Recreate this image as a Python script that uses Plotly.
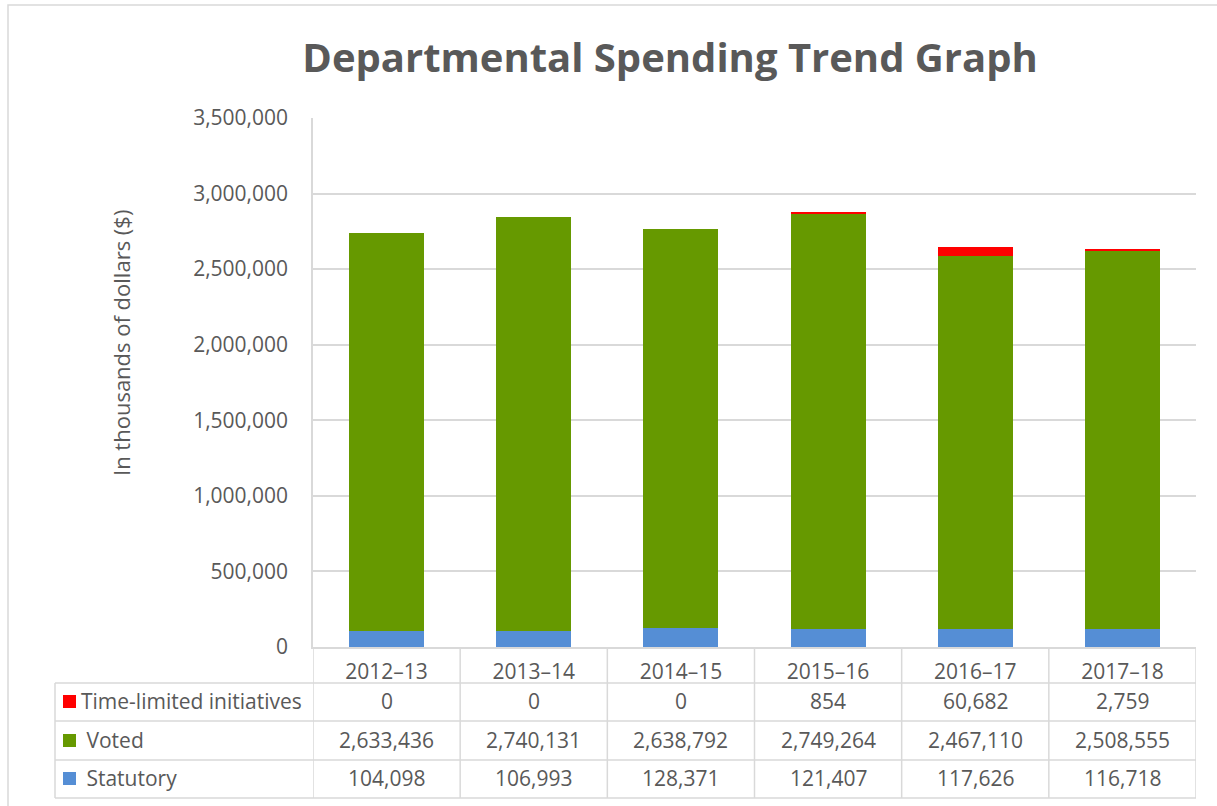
import plotly.graph_objects as go

categories = ["2012–13", "2013–14", "2014–15", "2015–16", "2016–17", "2017–18"]
statutory = [104098, 106993, 128371, 121407, 117626, 116718]
voted = [2633436, 2740131, 2638792, 2749264, 2467110, 2508555]
time_limited = [0, 0, 0, 854, 60682, 2759]
series_names = ["Time-limited initiatives", "Voted", "Statutory"]
y_ticks = [0, 500000, 1000000, 1500000, 2000000, 2500000, 3000000, 3500000]

C_RED = "#FF0000"
C_GREEN = "#669900"
C_BLUE = "#558ED5"
TXT = "#595959"
GRID = "#D9D9D9"
FONT = "Open Sans"
FS = 21

W, H = 1217, 806
L, R, T, B = 313, 1196, 118, 647


def px(x):
    return (x - L) / (R - L)


def py(y):
    return (B - y) / (B - T)


fig = go.Figure()
for name, vals, col in [("Statutory", statutory, C_BLUE),
                        ("Voted", voted, C_GREEN),
                        ("Time-limited initiatives", time_limited, C_RED)]:
    fig.add_trace(go.Bar(x=categories, y=vals, name=name, marker_color=col,
                         marker_line_width=0, width=0.51))

shapes = []
# outer border
shapes.append(dict(type="rect", xref="paper", yref="paper",
                   x0=px(8), x1=px(1240), y0=py(830), y1=py(5),
                   line=dict(color=GRID, width=1.5), fillcolor="rgba(0,0,0,0)", layer="below"))
# table horizontal lines
row_y = [683, 721, 760, 798]
for yy in row_y:
    shapes.append(dict(type="line", xref="paper", yref="paper",
                       x0=px(55), x1=px(R), y0=py(yy), y1=py(yy),
                       line=dict(color=GRID, width=1.5)))
# vertical lines at category boundaries
for k in range(len(categories) + 1):
    shapes.append(dict(type="line", xref="x", yref="paper",
                       x0=k - 0.5, x1=k - 0.5, y0=py(B), y1=py(798),
                       line=dict(color=GRID, width=1.5)))
# left border of row-label column
shapes.append(dict(type="line", xref="paper", yref="paper",
                   x0=px(55), x1=px(55), y0=py(683), y1=py(798),
                   line=dict(color=GRID, width=1.5)))

annotations = []
row_centers = [701, 740, 778]
row_data = [time_limited, voted, statutory]
row_cols = [C_RED, C_GREEN, C_BLUE]
for i, (name, vals, col) in enumerate(zip(series_names, row_data, row_cols)):
    yc = row_centers[i]
    shapes.append(dict(type="rect", xref="paper", yref="paper",
                       x0=px(63), x1=px(76), y0=py(yc + 7), y1=py(yc - 6),
                       fillcolor=col, line=dict(width=0)))
    label = name if i == 0 else " " + name
    annotations.append(dict(text=label, xref="paper", yref="paper",
                            x=px(79), y=py(yc), xanchor="left", yanchor="middle",
                            showarrow=False, font=dict(family=FONT, size=FS, color=TXT)))
    for c, v in zip(categories, vals):
        annotations.append(dict(text=f"{v:,}", xref="x", yref="paper",
                                x=c, y=py(yc), xanchor="center", yanchor="middle",
                                showarrow=False, font=dict(family=FONT, size=FS, color=TXT)))

annotations.append(dict(text="In thousands of dollars ($)", xref="paper", yref="paper",
                        x=px(121), y=py(343), xanchor="center", yanchor="middle",
                        textangle=-90, showarrow=False,
                        font=dict(family=FONT, size=22, color=TXT)))

fig.update_layout(
    width=W, height=H,
    margin=dict(l=L, r=W - R, t=T, b=H - B, pad=0),
    paper_bgcolor="white", plot_bgcolor="white",
    barmode="stack", showlegend=False,
    title=dict(text="<b>Departmental Spending Trend Graph</b>", xref="container",
               x=670 / W, xanchor="center",
               y=1 - 58 / H, yanchor="middle",
               font=dict(family=FONT, size=40, color=TXT)),
    font=dict(family=FONT, color=TXT),
    shapes=shapes, annotations=annotations,
)
fig.update_xaxes(type="category", showline=True, linecolor=GRID, linewidth=1.5,
                 showgrid=False, ticks="", tickfont=dict(family=FONT, size=FS, color=TXT),
                 ticklabelstandoff=5, range=[-0.5, 5.5])
fig.update_yaxes(range=[0, 3500000], tickvals=y_ticks, tickformat=",",
                 showgrid=True, gridcolor=GRID, gridwidth=1.5,
                 showline=True, linecolor=GRID, linewidth=1.5, zeroline=False,
                 ticks="", ticklabelstandoff=19,
                 tickfont=dict(family=FONT, size=FS, color=TXT))

fig.write_html("out.html")
